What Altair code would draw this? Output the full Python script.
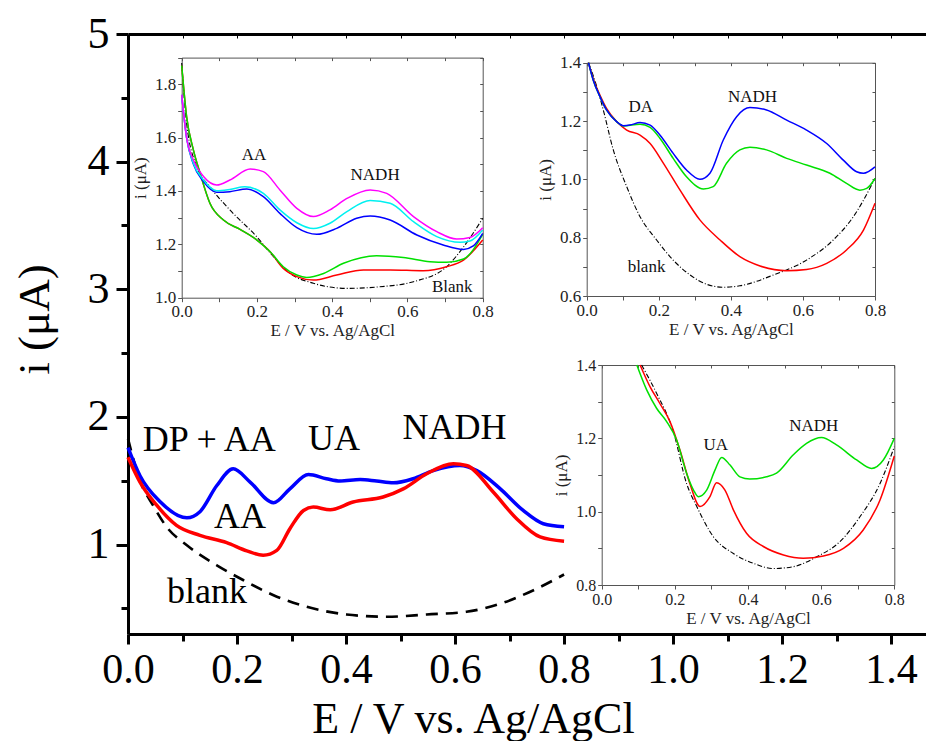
import altair as alt
import pandas as pd

# ---------------- main panel data ----------------
main_E_blue = [0.0, 0.022, 0.059, 0.108, 0.132, 0.163, 0.193, 0.224, 0.267, 0.297, 0.331, 0.364,
               0.389, 0.426, 0.456, 0.487, 0.523, 0.56, 0.609, 0.64, 0.683, 0.725, 0.762, 0.8]
main_i_blue = [1.76, 1.54, 1.336, 1.21, 1.258, 1.463, 1.594, 1.49, 1.328, 1.437, 1.549, 1.516,
               1.498, 1.51, 1.498, 1.484, 1.516, 1.58, 1.62, 1.58, 1.437, 1.268, 1.164, 1.14]
main_E_red = [0.0, 0.022, 0.053, 0.089, 0.132, 0.181, 0.218, 0.248, 0.273, 0.297, 0.322, 0.34,
              0.371, 0.413, 0.468, 0.505, 0.548, 0.597, 0.621, 0.67, 0.713, 0.756, 0.8]
main_i_red = [1.685, 1.49, 1.307, 1.151, 1.073, 1.016, 0.951, 0.917, 0.955, 1.125, 1.268, 1.294,
              1.273, 1.334, 1.373, 1.437, 1.555, 1.633, 1.62, 1.412, 1.203, 1.06, 1.026]
main_E_blank = [0.0, 0.022, 0.046, 0.071, 0.108, 0.163, 0.212, 0.267, 0.328, 0.401, 0.474, 0.548,
                0.621, 0.683, 0.744, 0.8]
main_i_blank = [1.83, 1.5, 1.307, 1.138, 0.995, 0.838, 0.721, 0.604, 0.513, 0.453, 0.435, 0.453,
                0.474, 0.537, 0.643, 0.766]
main_lbl_text = ["DP + AA", "UA", "NADH", "AA", "blank"]
main_lbl_E = [0.149, 0.378, 0.599, 0.2055, 0.145]
main_lbl_i = [1.736, 1.741, 1.825, 1.128, 0.540]

# ---------------- inset 1 (AA / NADH) ----------------
in1_E_mag = [0, .013, .031, .058, .093, .128, .182, .217, .261, .306, .35, .394, .439, .501, .545,
             .616, .678, .731, .766, .8]
in1_i_mag = [1.76, 1.6, 1.516, 1.454, 1.4225, 1.441, 1.4825, 1.4725, 1.404, 1.335, 1.304, 1.329,
             1.372, 1.404, 1.391, 1.304, 1.2475, 1.22, 1.226, 1.2625]
in1_E_cyan = [0, .013, .031, .058, .093, .128, .168, .217, .261, .306, .35, .394, .439, .501, .554,
              .616, .678, .74, .766, .8]
in1_i_cyan = [1.76, 1.6, 1.504, 1.441, 1.401, 1.406, 1.416, 1.391, 1.329, 1.281, 1.259, 1.279,
              1.3225, 1.364, 1.354, 1.285, 1.229, 1.2075, 1.2125, 1.254]
in1_E_blue = [0, .013, .031, .058, .093, .128, .173, .217, .261, .306, .359, .412, .465, .501, .554,
              .625, .695, .749, .775, .8]
in1_i_blue = [1.76, 1.6, 1.501, 1.435, 1.395, 1.3975, 1.4075, 1.379, 1.316, 1.2625, 1.2375, 1.26,
              1.2975, 1.306, 1.291, 1.235, 1.1975, 1.181, 1.194, 1.241]
in1_E_green = [0, .013, .031, .049, .075, .111, .155, .2, .235, .27, .306, .332, .377, .43, .518,
               .589, .66, .704, .749, .8]
in1_i_green = [1.87, 1.679, 1.554, 1.466, 1.354, 1.291, 1.256, 1.216, 1.1725, 1.116, 1.085, 1.076,
               1.091, 1.129, 1.1575, 1.151, 1.135, 1.1325, 1.145, 1.2375]
in1_E_red = [0, .013, .031, .049, .075, .111, .155, .2, .235, .27, .306, .35, .412, .483, .554,
             .642, .704, .749, .8]
in1_i_red = [1.87, 1.679, 1.554, 1.466, 1.354, 1.291, 1.256, 1.216, 1.1725, 1.11, 1.079, 1.066,
             1.085, 1.104, 1.104, 1.101, 1.116, 1.141, 1.216]
in1_E_blank = [0, .013, .04, .075, .128, .199, .244, .288, .35, .439, .527, .616, .704, .749, .8]
in1_i_blank = [1.88, 1.654, 1.491, 1.416, 1.329, 1.229, 1.154, 1.091, 1.054, 1.035, 1.041, 1.06,
               1.116, 1.19, 1.2975]
in1_lbl_text = ["AA", "NADH", "Blank"]
in1_lbl_E = [0.192, 0.514, 0.719]
in1_lbl_i = [1.516, 1.441, 1.02]

# ---------------- inset 2 (DA / NADH) ----------------
in2_E_blue = [.005, .018, .037, .055, .083, .102, .12, .148, .176, .203, .24, .277, .314, .342, .379,
              .416, .453, .499, .555, .61, .666, .712, .749, .768, .8]
in2_i_blue = [1.40, 1.341, 1.283, 1.238, 1.198, 1.184, 1.186, 1.195, 1.186, 1.152, 1.089, 1.032, 1.0,
              1.021, 1.135, 1.215, 1.246, 1.238, 1.203, 1.169, 1.123, 1.066, 1.026, 1.021, 1.043]
in2_E_green = [.005, .018, .037, .055, .083, .102, .148, .176, .203, .24, .277, .324, .351, .388,
               .425, .453, .499, .555, .61, .675, .721, .758, .777, .8]
in2_i_green = [1.40, 1.341, 1.283, 1.238, 1.198, 1.183, 1.189, 1.178, 1.141, 1.072, 1.009, .967,
               .975, 1.055, 1.101, 1.11, 1.101, 1.072, 1.049, 1.021, .986, .963, .969, 1.003]
in2_E_red = [.005, .018, .037, .055, .083, .111, .148, .176, .213, .259, .314, .37, .425, .481, .555,
             .61, .666, .721, .768, .8]
in2_i_red = [1.40, 1.345, 1.288, 1.243, 1.198, 1.169, 1.152, 1.123, 1.055, .963, .861, .792, .735,
             .703, .687, .691, .712, .758, .826, .918]
in2_E_blank = [.005, .028, .046, .074, .111, .148, .194, .24, .287, .333, .379, .425, .518, .61,
               .684, .74, .8]
in2_i_blank = [1.40, 1.318, 1.238, 1.10, .975, .872, .792, .723, .672, .64, .63, .635, .672, .723,
               .792, .872, 1.003]
in2_lbl_text = ["DA", "NADH", "blank"]
in2_lbl_E = [0.150, 0.46, 0.166]
in2_lbl_i = [1.232, 1.266, 0.681]

# ---------------- inset 3 (UA / NADH) ----------------
in3_E_green = [.096, .123, .15, .178, .205, .232, .251, .264, .287, .31, .328, .351, .378, .405, .451,
               .478, .524, .56, .601, .642, .697, .738, .77, .8]
in3_i_green = [1.40, 1.332, 1.282, 1.245, 1.195, 1.105, 1.059, 1.041, 1.059, 1.114, 1.148, 1.127,
               1.095, 1.089, 1.095, 1.105, 1.155, 1.186, 1.202, 1.182, 1.141, 1.118, 1.141, 1.20]
in3_E_red = [.105, .132, .159, .187, .214, .241, .269, .296, .314, .337, .36, .396, .442, .497, .551,
             .606, .661, .715, .761, .8]
in3_i_red = [1.40, 1.341, 1.295, 1.245, 1.168, 1.077, 1.014, 1.041, 1.079, 1.059, 1.005, .941, .905,
             .882, .873, .879, .90, .95, 1.032, 1.152]
in3_E_blank = [.109, .15, .196, .232, .26, .305, .36, .415, .469, .524, .588, .651, .706, .761, .8]
in3_i_blank = [1.40, 1.323, 1.218, 1.077, 1.014, .932, .886, .859, .845, .85, .877, .918, .986,
               1.077, 1.177]
in3_lbl_text = ["UA", "NADH"]
in3_lbl_E = [0.312, 0.580]
in3_lbl_i = [1.168, 1.22]

# ---------------- styling / layout ----------------
W, H = 798, 600
FONT = "Liberation Serif"
COLORS = {"red": "#ff0000", "blue": "#0000ff", "green": "#00e000",
          "cyan": "#00f0f0", "magenta": "#ff00ff"}


def series(pairs):
    frames = []
    for name, E, I in pairs:
        frames.append(pd.DataFrame({"E": E, "i": I, "s": name, "c": COLORS[name]}))
    return pd.concat(frames, ignore_index=True)


def tenths(a, b):
    return [round(k / 10, 1) for k in range(int(round(a * 10)), int(round(b * 10)) + 1)]


EVEN_LABEL = "round(datum.value*10) % 2 == 0 ? format(datum.value, '.1f') : ''"

# ---------------- main panel ----------------
mxs = alt.Scale(domain=[0, 1.464], nice=False, zero=False)
mys = alt.Scale(domain=[0.3, 5], nice=False, zero=False)
ax_mx = alt.Axis(orient="bottom", values=[0.0, 0.2, 0.4, 0.6, 0.8, 1.0, 1.2, 1.4], format=".1f",
                 labelFontSize=42, labelPadding=5, labelFlush=False, labelOverlap=False,
                 tickSize=10, tickWidth=3, domainWidth=3, grid=False,
                 title="E / V vs. Ag/AgCl", titleFontSize=44, titleX=345, titleY=98,
                 titleBaseline="alphabetic", titleAlign="center")
ax_my = alt.Axis(orient="left", values=[1, 2, 3, 4, 5], format="d", labelFontSize=44,
                 labelPadding=7, labelFlush=False, labelOverlap=False, tickSize=12, tickWidth=3,
                 domainWidth=3, grid=False, title="i (μA)", titleFontSize=45, titleX=-71,
                 titleY=285, titleAngle=270, titleBaseline="bottom", titleAlign="center")

main_df = series([("blue", main_E_blue, main_i_blue), ("red", main_E_red, main_i_red)])
main_blank = pd.DataFrame({"E": main_E_blank, "i": main_i_blank})
main_lbl = pd.DataFrame({"E": main_lbl_E, "i": main_lbl_i, "t": main_lbl_text})

mX = alt.X("E:Q", scale=mxs, axis=ax_mx)
mY = alt.Y("i:Q", scale=mys, axis=ax_my)
main_layer = alt.layer(
    alt.Chart(main_blank).mark_line(strokeDash=[12, 8], strokeWidth=2.6, color="black",
                                    interpolate="monotone").encode(x=mX, y=mY),
    alt.Chart(main_df).mark_line(strokeWidth=3.5, interpolate="monotone").encode(
        x=mX, y=mY, color=alt.Color("c:N", scale=None), detail="s:N"),
    alt.Chart(main_lbl).mark_text(font=FONT, fontSize=36, baseline="alphabetic", align="center",
                                  color="black").encode(x=mX, y=mY, text="t:N"),
)

anchor = pd.DataFrame({"E": [0.0], "i": [1.0]})
main_minor = alt.Chart(anchor).mark_point(opacity=0).encode(
    x=alt.X("E:Q", scale=mxs, axis=alt.Axis(orient="bottom", values=[0.1, 0.3, 0.5, 0.7, 0.9, 1.1, 1.3],
                                            labels=False, domain=False, tickSize=7, tickWidth=3,
                                            grid=False, title=None)),
    y=alt.Y("i:Q", scale=mys, axis=alt.Axis(orient="left", values=[0.5, 1.5, 2.5, 3.5, 4.5],
                                            labels=False, domain=False, tickSize=7, tickWidth=3,
                                            grid=False, title=None)),
)
main_top = alt.Chart(anchor).mark_point(opacity=0).encode(
    x=alt.X("E:Q", scale=mxs, axis=alt.Axis(orient="bottom", offset=-H, values=tenths(0.1, 1.4),
                                            labels=False, domainWidth=3, tickSize=4, tickWidth=1,
                                            grid=False, title=None)),
    y=alt.Y("i:Q", scale=mys, axis=None),
)


# ---------------- insets ----------------
def inset(df_lines, E_blank, i_blank, lbl_E, lbl_i, lbl_t, xr, yr, ydom, tick_fs):
    xs = alt.Scale(domain=[0, 0.8], range=xr, nice=False, zero=False)
    ys = alt.Scale(domain=ydom, range=yr, nice=False, zero=False)
    xv = tenths(0, 0.8)
    yv = tenths(ydom[0], ydom[1])
    ax = alt.Axis(orient="bottom", offset=yr[0] - H, values=xv, labelExpr=EVEN_LABEL,
                  labelFontSize=tick_fs, labelPadding=2, labelFlush=False, labelOverlap=False,
                  tickSize=4, tickWidth=1, domainWidth=1, domainColor="#555", tickColor="#555",
                  labelColor="#222", grid=False, title="E / V vs. Ag/AgCl", titleFontSize=17,
                  titlePadding=3, titleColor="#222")
    ay = alt.Axis(orient="left", offset=-xr[0], values=yv, labelExpr=EVEN_LABEL,
                  labelFontSize=tick_fs, labelPadding=2, labelFlush=False, labelOverlap=False,
                  tickSize=4, tickWidth=1, domainWidth=1, domainColor="#555", tickColor="#555",
                  labelColor="#222", grid=False, title="i (μA)", titleFontSize=17,
                  titlePadding=5, titleColor="#222")
    X = alt.X("E:Q", scale=xs, axis=ax)
    Y = alt.Y("i:Q", scale=ys, axis=ay)
    blank = pd.DataFrame({"E": E_blank, "i": i_blank})
    lbl = pd.DataFrame({"E": lbl_E, "i": lbl_i, "t": lbl_t})
    body = alt.layer(
        alt.Chart(blank).mark_line(strokeDash=[5, 2, 1, 2], strokeWidth=1.1, color="black",
                                   interpolate="monotone").encode(x=X, y=Y),
        alt.Chart(df_lines).mark_line(strokeWidth=1.5, interpolate="monotone").encode(
            x=X, y=Y, color=alt.Color("c:N", scale=None), detail="s:N"),
        alt.Chart(lbl).mark_text(font=FONT, fontSize=17, baseline="alphabetic", align="center",
                                 color="#111").encode(x=X, y=Y, text="t:N"),
    )
    frame = alt.Chart(anchor).mark_point(opacity=0).encode(
        x=alt.X("E:Q", scale=xs, axis=alt.Axis(orient="bottom", offset=yr[1] - H, values=xv,
                                               labels=False, tickSize=3, tickWidth=1, domainWidth=1,
                                               domainColor="#555", tickColor="#555", grid=False,
                                               title=None)),
        y=alt.Y("i:Q", scale=ys, axis=alt.Axis(orient="left", offset=-xr[1], values=yv,
                                               labels=False, tickSize=3, tickWidth=1, domainWidth=1,
                                               domainColor="#555", tickColor="#555", grid=False,
                                               title=None)),
    )
    return [body, frame]


in1 = inset(series([("red", in1_E_red, in1_i_red), ("green", in1_E_green, in1_i_green),
                    ("blue", in1_E_blue, in1_i_blue), ("cyan", in1_E_cyan, in1_i_cyan),
                    ("magenta", in1_E_mag, in1_i_mag)]),
            in1_E_blank, in1_i_blank, in1_lbl_E, in1_lbl_i, in1_lbl_text,
            [53.7, 354.7], [263.7, 23.6], [1.0, 1.9], 17)
in2 = inset(series([("red", in2_E_red, in2_i_red), ("green", in2_E_green, in2_i_green),
                    ("blue", in2_E_blue, in2_i_blue)]),
            in2_E_blank, in2_i_blank, in2_lbl_E, in2_lbl_i, in2_lbl_text,
            [458.7, 747.0], [262.0, 28.7], [0.6, 1.4], 17)
in3 = inset(series([("red", in3_E_red, in3_i_red), ("green", in3_E_green, in3_i_green)]),
            in3_E_blank, in3_i_blank, in3_lbl_E, in3_lbl_i, in3_lbl_text,
            [473.7, 766.3], [551.0, 331.0], [0.8, 1.4], 16)

chart = alt.layer(main_layer, main_minor, main_top, *in1, *in2, *in3).resolve_scale(
    x="independent", y="independent"
).properties(
    width=W, height=H,
    autosize=alt.AutoSizeParams(type="none"),
    padding={"left": 120, "top": 26, "right": 0, "bottom": 107},
).configure_view(stroke=None).configure_axis(
    labelFont=FONT, titleFont=FONT, titleFontWeight="normal", labelColor="black",
    titleColor="black", domainColor="black", tickColor="black", grid=False
)

chart.save("out.html", embed_options={"renderer": "svg", "actions": False})
